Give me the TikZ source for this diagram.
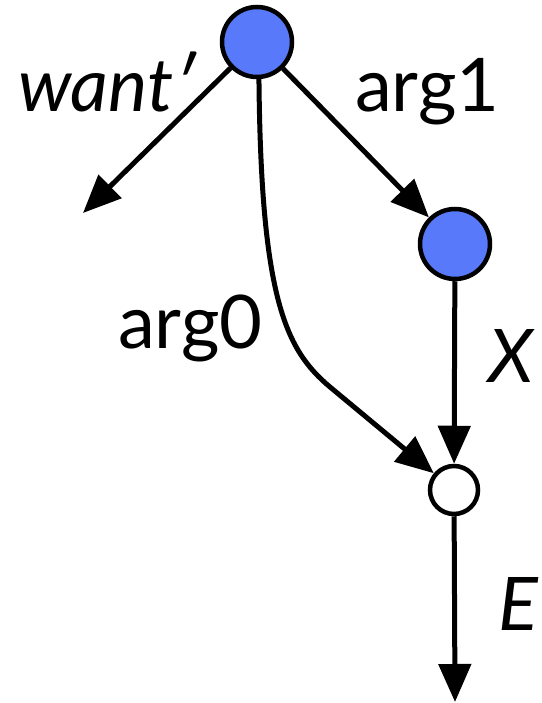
\documentclass[tikz,border=0pt]{standalone}
\usepackage{fontspec}
\setmainfont{Lato}
\usetikzlibrary{arrows.meta}
\definecolor{nodeblue}{RGB}{88,122,250}
\begin{document}
\begin{tikzpicture}[x=1pt,y=-1pt,
  bluenode/.style={circle,draw=black,line width=4.5pt,fill=nodeblue,minimum size=70pt,inner sep=0pt},
  whitenode/.style={circle,draw=black,line width=4.5pt,fill=white,minimum size=48pt,inner sep=0pt},
  edge/.style={line width=5pt,-{Triangle[length=38pt,width=32pt]}},
  lbl/.style={font=\fontsize{74}{80}\selectfont,inner sep=0pt,anchor=base west}]
\useasboundingbox (0,0) rectangle (541,703);
\node[bluenode] (top) at (257,42) {};
\node[bluenode] (right) at (455,244) {};
\node[whitenode] (white) at (454,490) {};
\coordinate (wantend) at (83,213);
\coordinate (bottomend) at (455,702);
\draw[edge] (top) -- (wantend);
\draw[edge] (top) -- (right);
\draw[edge] (right) -- (white);
\draw[edge] (white) -- (bottomend);
\draw[edge] (top.-87) .. controls (261,300) and (286,350) .. (330,387) -- (white);
\node[lbl] (lwant) at (18,112) {\itshape want′};
\node[lbl] (larg1) at (355,112) {arg1};
\node[lbl] (larg0) at (118,348) {arg0};
\node[lbl] (lx) at (488,382) {\itshape X};
\node[lbl] (le) at (498,630) {\itshape E};
\end{tikzpicture}
\end{document}
